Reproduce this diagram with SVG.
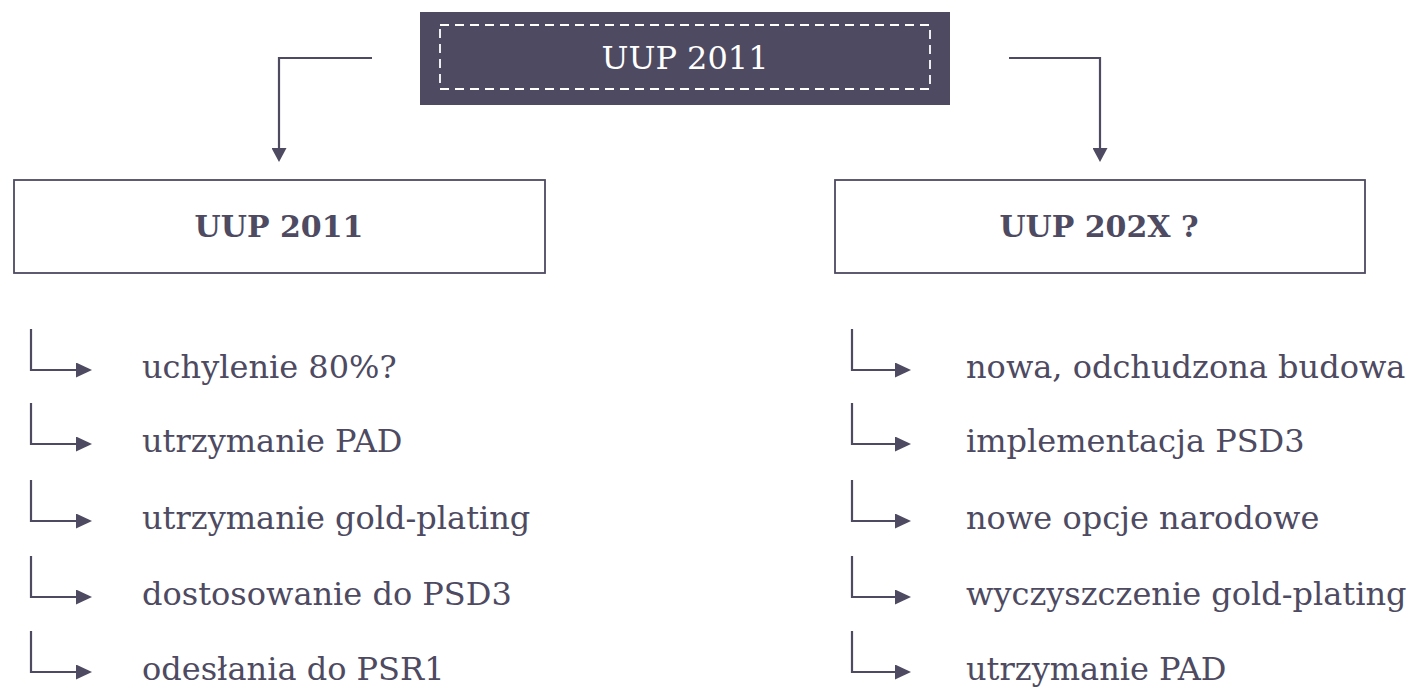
<svg xmlns="http://www.w3.org/2000/svg" width="1414" height="692" viewBox="0 0 1414 692">
<style>
.ln{fill:none;stroke:#4d4a61;stroke-width:2.2}
.box{fill:#fff;stroke:#4d4a61;stroke-width:1.8}
.t{font-family:"DejaVu Serif","Liberation Serif",serif;font-size:32px;fill:#4d4a61}
.b{font-family:"DejaVu Serif","Liberation Serif",serif;font-size:30px;font-weight:bold;fill:#4d4a61}
</style>
<defs>
<marker id="ah" viewBox="0 0 14 15" refX="0" refY="7.5" markerWidth="14" markerHeight="15" markerUnits="userSpaceOnUse" orient="auto"><path d="M0,0 L14,7.5 L0,15 Z" fill="#4d4a61"/></marker>
<marker id="sa" viewBox="0 0 16 15" refX="0" refY="7.5" markerWidth="16" markerHeight="15" markerUnits="userSpaceOnUse" orient="auto"><path d="M0,0 L16,7.5 L0,15 Z" fill="#4d4a61"/></marker>
</defs>
<g id="top">
<rect x="420" y="12" width="530" height="93" fill="#4e4a61"/>
<rect x="440" y="25" width="490" height="64" fill="none" stroke="#fff" stroke-width="1.8" stroke-dasharray="9,6"/>
<text x="685" y="69" text-anchor="middle" font-family="DejaVu Serif, Liberation Serif, serif" font-size="32" fill="#fff">UUP 2011</text>
</g>
<g id="left">
<rect class="box" x="14" y="180" width="531" height="93"/>
<text class="b" x="279" y="237" text-anchor="middle">UUP 2011</text>
</g>
<g id="right">
<rect class="box" x="835" y="180" width="530" height="93"/>
<text class="b" x="1099" y="237" text-anchor="middle">UUP 202X ?</text>
</g>
<g id="connectors">
<path class="ln" d="M372,58 H279 V148" marker-end="url(#ah)"/>
<path class="ln" d="M1009,58 H1100 V148" marker-end="url(#ah)"/>
<path class="ln" d="M31,329 V370 H76" marker-end="url(#sa)"/>
<path class="ln" d="M31,403 V444 H76" marker-end="url(#sa)"/>
<path class="ln" d="M31,480 V521 H76" marker-end="url(#sa)"/>
<path class="ln" d="M31,556 V597 H76" marker-end="url(#sa)"/>
<path class="ln" d="M31,631 V672 H76" marker-end="url(#sa)"/>
<path class="ln" d="M852,329 V370 H895" marker-end="url(#sa)"/>
<path class="ln" d="M852,403 V444 H895" marker-end="url(#sa)"/>
<path class="ln" d="M852,480 V521 H895" marker-end="url(#sa)"/>
<path class="ln" d="M852,556 V597 H895" marker-end="url(#sa)"/>
<path class="ln" d="M852,631 V672 H895" marker-end="url(#sa)"/>
</g>
<g id="list-left">
<text class="t" x="142" y="378">uchylenie 80%?</text>
<text class="t" x="142" y="452">utrzymanie PAD</text>
<text class="t" x="142" y="529">utrzymanie gold-plating</text>
<text class="t" x="142" y="605">dostosowanie do PSD3</text>
<text class="t" x="142" y="680">odesłania do PSR1</text>
</g>
<g id="list-right">
<text class="t" x="966" y="378">nowa, odchudzona budowa</text>
<text class="t" x="966" y="452">implementacja PSD3</text>
<text class="t" x="966" y="529">nowe opcje narodowe</text>
<text class="t" x="966" y="605">wyczyszczenie gold-plating</text>
<text class="t" x="966" y="680">utrzymanie PAD</text>
</g>
</svg>
